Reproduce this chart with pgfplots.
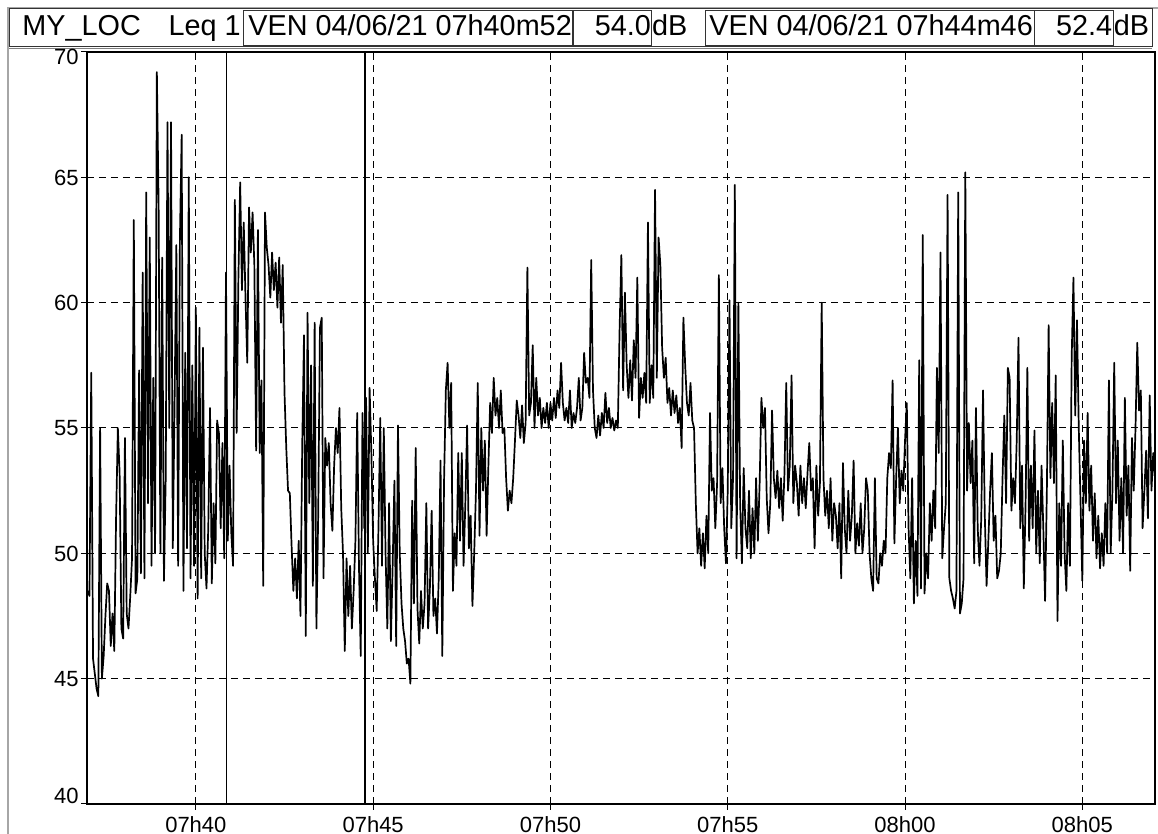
\documentclass[border=0pt]{standalone}
\usepackage{pgfplots}
\pgfplotsset{compat=1.18}
\usepackage{pgfplotstable}
\usepackage{fontspec}
\setmainfont{Liberation Sans}

% Leq 1 s samples, one every 3 s starting 07h36m57
\pgfplotstableread[row sep=\\]{
db\\
48.5\\48.3\\57.2\\45.8\\45.2\\44.6\\44.3\\55.0\\45.0\\45.9\\
47.5\\48.8\\48.5\\46.3\\47.6\\46.1\\51.4\\55.0\\53.2\\47.0\\
46.6\\54.6\\47.6\\47.0\\48.3\\49.8\\63.3\\48.4\\49.0\\57.3\\
49.2\\61.2\\49.0\\64.4\\52.0\\62.6\\49.5\\57.0\\50.0\\69.2\\
63.9\\50.0\\61.8\\48.9\\53.0\\67.2\\55.0\\67.2\\50.2\\56.0\\
62.3\\49.5\\62.5\\66.7\\48.5\\58.0\\50.2\\65.0\\49.0\\57.5\\
49.5\\59.8\\48.2\\59.0\\49.0\\58.2\\50.0\\48.6\\51.0\\55.8\\
48.8\\52.0\\49.6\\55.3\\54.8\\51.0\\54.4\\49.8\\61.2\\50.5\\
53.5\\50.8\\49.5\\64.1\\54.8\\61.0\\64.8\\60.5\\63.2\\60.2\\
57.6\\63.8\\62.0\\63.6\\61.5\\54.1\\62.9\\54.0\\56.9\\48.7\\
63.6\\62.2\\61.5\\60.2\\62.0\\60.5\\61.6\\59.8\\61.8\\59.2\\
61.5\\56.4\\54.2\\52.5\\52.4\\50.3\\48.5\\49.8\\48.2\\50.5\\
47.5\\54.3\\58.7\\46.7\\59.6\\52.0\\57.5\\48.7\\59.2\\47.0\\
51.5\\59.0\\59.4\\49.0\\54.6\\53.5\\54.4\\52.0\\50.9\\53.5\\
55.0\\54.0\\55.8\\51.8\\50.0\\46.1\\49.8\\47.5\\49.5\\47.0\\
48.5\\50.5\\55.6\\49.5\\45.9\\55.6\\51.0\\56.2\\50.0\\56.6\\
54.0\\50.5\\49.0\\47.7\\51.0\\55.4\\49.5\\55.0\\50.0\\47.0\\
52.0\\46.5\\49.5\\52.9\\46.3\\55.1\\50.0\\48.0\\47.0\\46.5\\
45.6\\45.8\\44.8\\52.1\\48.0\\54.2\\47.8\\46.4\\48.5\\47.0\\
48.0\\52.0\\47.0\\48.6\\51.7\\47.5\\48.2\\46.8\\49.0\\53.7\\
45.9\\52.9\\56.5\\57.6\\55.0\\56.8\\48.5\\50.8\\49.5\\54.0\\
50.5\\54.0\\49.5\\52.0\\55.1\\50.2\\51.5\\47.9\\50.0\\52.5\\
56.8\\50.7\\55.0\\52.5\\54.5\\50.7\\53.5\\56.0\\54.8\\57.0\\
55.5\\56.2\\55.0\\56.5\\54.8\\55.0\\53.0\\51.7\\52.5\\52.0\\
53.0\\54.5\\56.1\\55.5\\54.6\\55.9\\54.4\\55.2\\61.4\\55.5\\
56.0\\58.3\\55.0\\57.0\\55.5\\56.2\\55.0\\55.8\\55.2\\56.0\\
55.0\\56.0\\55.3\\56.2\\55.4\\56.5\\55.8\\57.6\\56.0\\55.3\\
55.8\\55.2\\56.5\\55.0\\55.6\\55.2\\55.8\\57.0\\55.3\\55.8\\
58.0\\56.8\\57.0\\56.2\\61.7\\56.5\\55.0\\54.6\\55.5\\54.7\\
55.6\\55.0\\56.4\\55.2\\55.8\\55.0\\55.4\\54.9\\55.3\\55.0\\
58.9\\61.9\\56.5\\60.4\\57.5\\56.2\\57.7\\56.1\\58.5\\57.0\\
61.0\\55.4\\57.0\\56.2\\57.2\\56.0\\63.2\\56.0\\57.5\\56.2\\
64.5\\57.0\\62.6\\61.5\\58.2\\57.0\\57.8\\56.0\\56.6\\55.5\\
56.5\\55.6\\56.3\\55.2\\55.8\\54.2\\59.4\\57.5\\56.0\\55.5\\
56.8\\55.3\\55.0\\52.0\\50.0\\51.0\\49.5\\50.8\\49.4\\51.5\\
50.0\\55.6\\52.5\\53.0\\51.0\\52.8\\61.1\\52.0\\53.4\\51.0\\
49.6\\52.5\\60.1\\51.0\\53.0\\64.7\\49.8\\60.0\\52.0\\49.6\\
53.4\\51.0\\50.2\\52.5\\49.8\\51.8\\50.0\\53.0\\50.5\\52.8\\
56.2\\55.0\\55.8\\52.2\\50.8\\52.0\\55.7\\53.0\\52.2\\53.3\\
51.8\\53.0\\51.3\\53.2\\56.8\\52.5\\53.5\\57.1\\52.0\\53.5\\
52.8\\51.5\\53.5\\52.0\\53.0\\51.8\\53.2\\54.4\\52.5\\53.0\\
50.2\\53.5\\51.5\\52.8\\60.0\\53.0\\51.5\\52.5\\51.0\\53.0\\
50.5\\52.0\\51.5\\50.2\\52.0\\49.0\\53.6\\51.0\\50.0\\52.5\\
50.5\\51.5\\53.7\\50.0\\51.2\\50.3\\52.0\\50.0\\51.0\\53.0\\
52.5\\50.0\\49.0\\48.5\\53.0\\49.0\\48.8\\50.0\\49.5\\50.5\\
50.0\\53.0\\54.0\\53.4\\56.9\\50.4\\53.0\\55.0\\52.0\\53.3\\
52.5\\54.5\\56.0\\51.0\\49.0\\53.0\\48.0\\50.5\\48.3\\57.7\\
48.6\\62.7\\48.4\\50.0\\49.0\\52.0\\50.5\\52.5\\51.0\\57.4\\
54.0\\62.0\\49.8\\51.0\\52.0\\64.3\\49.0\\48.5\\48.2\\47.8\\
48.5\\64.4\\47.6\\48.0\\49.0\\65.2\\52.5\\55.2\\52.8\\54.5\\
49.6\\55.8\\51.0\\49.5\\51.4\\56.5\\51.5\\48.7\\50.5\\52.5\\
54.0\\50.5\\51.5\\49.0\\49.3\\50.0\\53.0\\55.5\\52.0\\57.4\\
57.0\\51.7\\53.0\\52.0\\54.5\\58.6\\51.0\\53.5\\48.6\\52.0\\
57.4\\50.5\\53.5\\51.0\\54.9\\50.0\\52.5\\49.6\\53.5\\51.0\\
48.1\\52.5\\59.1\\53.0\\56.0\\52.8\\57.1\\47.3\\52.0\\49.5\\
54.5\\50.0\\48.5\\52.0\\49.5\\57.8\\61.0\\55.5\\59.3\\55.0\\
52.0\\48.9\\54.5\\52.0\\55.6\\51.7\\53.5\\50.5\\52.4\\49.8\\
51.5\\49.4\\50.8\\49.5\\52.0\\50.0\\56.9\\50.0\\52.5\\57.6\\
52.0\\54.5\\50.5\\53.0\\50.0\\56.2\\51.5\\53.5\\49.3\\54.6\\
52.5\\55.0\\58.4\\55.7\\56.5\\51.0\\52.5\\54.1\\51.4\\56.3\\
52.5\\54.0\\53.0\\
}\leqdata

\begin{document}
\begin{tikzpicture}
\path[use as bounding box] (0pt,0pt) rectangle (579pt,417pt);
\fill[white] (0pt,0pt) rectangle (579pt,417pt);
% outer frame
\draw[gray!70, line width=0.6pt] (4pt,0pt) -- (4pt,413pt) -- (579pt,413pt);
% header
\draw[black!80, line width=0.5pt] (4.5pt,412.5pt) rectangle (576pt,393.5pt);
\draw[gray, line width=0.5pt] (4.5pt,392.8pt) -- (576pt,392.8pt);
\def\hfont{\fontsize{14.4}{16}\selectfont}
\node[anchor=base west, inner sep=0pt] at (11pt,399pt) {\hfont MY\_LOC};
\node[anchor=base east, inner sep=0pt] at (120.5pt,399pt) {\hfont Leq 1};
\draw[black!80, line width=0.5pt] (121.75pt,411.5pt) rectangle (286pt,394pt);
\node[anchor=base west, inner sep=0pt] at (124pt,399pt) {\hfont VEN 04/06/21 07h40m52};
\draw[black!80, line width=0.5pt] (286.5pt,411.5pt) rectangle (325.75pt,394pt);
\node[anchor=base east, inner sep=0pt] at (325.6pt,399pt) {\hfont 54.0};
\node[anchor=base west, inner sep=0pt] at (325.9pt,399pt) {\hfont dB};
\draw[black!80, line width=0.5pt] (352.5pt,411.5pt) rectangle (517pt,394pt);
\node[anchor=base west, inner sep=0pt] at (354.5pt,399pt) {\hfont VEN 04/06/21 07h44m46};
\draw[black!80, line width=0.5pt] (517pt,411.5pt) rectangle (556.5pt,394pt);
\node[anchor=base east, inner sep=0pt] at (556.3pt,399pt) {\hfont 52.4};
\node[anchor=base west, inner sep=0pt] at (556.7pt,399pt) {\hfont dB};

\begin{axis}[
  at={(43.5pt,15pt)}, anchor=south west,
  scale only axis, width=534pt, height=376pt,
  xmin=36.93, xmax=67.05, ymin=40, ymax=70,
  xtick={40,45,50,55,60,65},
  xticklabels={07h40,07h45,07h50,07h55,08h00,08h05},
  ytick={40,45,50,55,60,65,70},
  yticklabels={\raisebox{4.2pt}{40},45,50,55,60,65,\raisebox{-2.6pt}{70}},
  xtick pos=bottom, ytick pos=left,
  tick align=outside,
  major tick length=3pt,
  tick style={black, line width=0.5pt},
  /pgf/number format/assume math mode=true,
  ticklabel style={font=\fontsize{11}{12}\selectfont},
  xticklabel style={inner sep=0pt, yshift=-3pt},
  yticklabel style={anchor=base east, inner sep=0pt, xshift=-1pt, yshift=-3.9pt},
  grid=major,
  major grid style={black, line width=0.5pt, dash pattern=on 3.5pt off 2.5pt},
  axis line style={black, line width=0.6pt},
  clip=true,
]
\addplot[black, line width=0.8pt] coordinates {(40.8667,40) (40.8667,70)};
\addplot[black, line width=0.8pt] coordinates {(44.7667,40) (44.7667,70)};
\addplot[black, line width=0.85pt, line join=round] table[x expr={36.95+\coordindex*0.05}, y=db] {\leqdata};
\end{axis}
\end{tikzpicture}
\end{document}
